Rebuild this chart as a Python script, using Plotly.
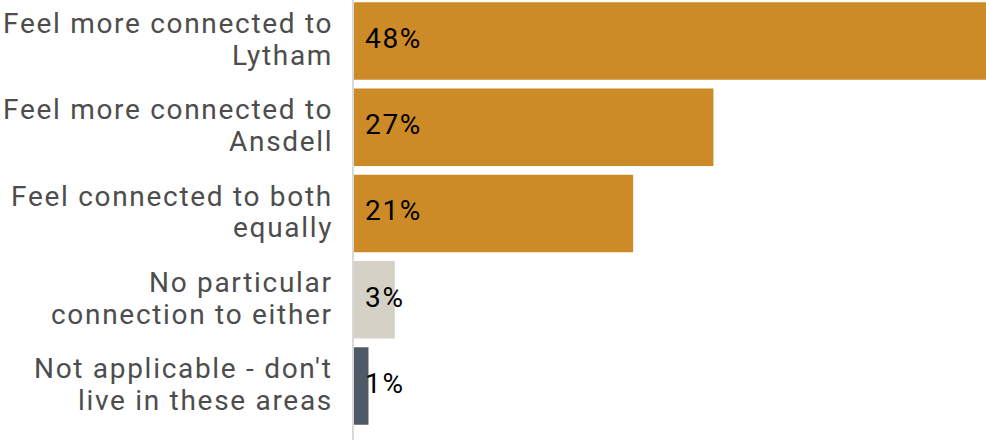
import plotly.graph_objects as go

categories = [
    "Feel more connected to<br>Lytham",
    "Feel more connected to<br>Ansdell",
    "Feel connected to both<br>equally",
    "No particular<br>connection to either",
    "Not applicable - don't<br>live in these areas",
]
values = [48.0, 27.3, 21.2, 3.1, 1.1]
colors = ["#CD8B27", "#CD8B27", "#CD8B27", "#D6D1C6", "#4E5A66"]

fig = go.Figure()
fig.add_trace(go.Bar(
    y=categories, x=values, orientation="h",
    marker=dict(color=colors, line=dict(width=0)),
    width=0.9, hoverinfo="skip",
))

# value labels inside bars
for c, v in zip(categories, values):
    fig.add_annotation(
        x=0, y=c, text=f"{v:.0f}%", showarrow=False,
        xanchor="left", yanchor="middle", xshift=9, yshift=2.5,
        font=dict(family="Roboto", size=28, color="#000000"),
    )

# category labels (two lines each, tighter line spacing)
line_gap = 15.8
for c in categories:
    lines = c.split("<br>")
    for i, ln in enumerate(lines):
        ys = 1.5 + (line_gap if i == 0 else -line_gap)
        fig.add_annotation(
            x=0, y=c, text=ln, showarrow=False,
            xanchor="right", yanchor="middle", xshift=-19, yshift=ys,
            font=dict(family="Roboto", size=28, color="#4D4D4D"),
        )

fig.update_layout(
    width=986, height=440,
    margin=dict(l=354, r=0, t=0, b=0),
    paper_bgcolor="white", plot_bgcolor="white",
    showlegend=False,
    font=dict(family="Roboto"),
)
fig.update_xaxes(range=[0, 48], visible=False, showgrid=False, zeroline=False)
fig.update_yaxes(
    range=[4.626, -0.475],
    showline=True, linecolor="#D9D9D9", linewidth=2,
    ticks="", showticklabels=False,
    showgrid=False, zeroline=False,
)
fig.write_html("out.html", config={"displayModeBar": False})

with open("out.html", "r", encoding="utf-8") as f:
    html = f.read()
css = "<style>body{margin:0;padding:0;overflow:hidden;} .annotation-text{letter-spacing:1.7px;}</style>"
html = html.replace("<head>", "<head>" + css, 1)
with open("out.html", "w", encoding="utf-8") as f:
    f.write(html)
